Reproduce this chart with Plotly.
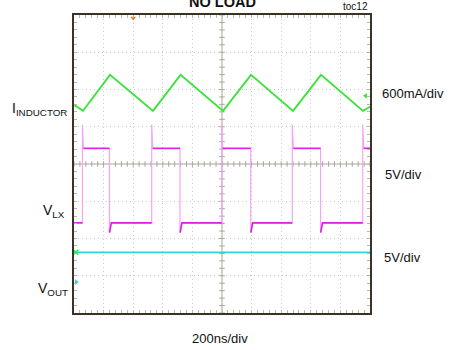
import plotly.graph_objects as go

# ---- time base: 200 ns/div over 10 divisions; 8 vertical divisions ----
T_SPAN_NS = 2000
DIV_NS = 200
V_HALF_DIVS = 4

# ---- inductor current, 600 mA/div ----
IL_T_NS = [0, 61, 243, 534, 720, 1007, 1196, 1480, 1669, 1953, 2000]
IL_MA = [-145, -242, 338, -242, 338, -242, 338, -242, 338, -242, -177]
IL_SCALE_MA = 600.0
IL_GROUND_DIV = 1.83

# ---- switching node LX, 5 V/div ----
LX_RISE_NS = [57, 525, 998, 1475, 1951]
LX_FALL_NS = [239, 716, 1194, 1666]
LX_LOW_V = 0.0
LX_HIGH_V = 10.0
LX_RING_UP_V = 13.2
LX_RING_DN_V = -1.3
LX_RISE_SETTLE_NS = 7
LX_FALL_SETTLE_NS = 13
LX_SCALE_V = 5.0
LX_GROUND_DIV = -1.58

# ---- output voltage, 5 V/div ----
VOUT_T_NS = [0, 2000]
VOUT_V = [4.0, 4.0]
VOUT_SCALE_V = 5.0
VOUT_GROUND_DIV = -3.17

TRIGGER_NS = 400

FONT = "Liberation Sans, Arial, sans-serif"
GREEN = "#3ae23a"
MAGENTA = "#e020e0"
PINK = "#f3a6f3"
CYAN = "#2fd4e2"
FRAME = "#3a3326"
CROSS = "#aca698"
TICK = "#bdb7a9"


def to_div(values, scale, ground):
    return [None if v is None else ground + v / scale for v in values]


# build the LX trace from its edge times and levels
events = sorted([(t, "rise") for t in LX_RISE_NS] + [(t, "fall") for t in LX_FALL_NS])
full_t, full_v = [0], [LX_LOW_V]
flat_t, flat_v = [0], [LX_LOW_V]
level = LX_LOW_V
for t, kind in events:
    if kind == "rise":
        full_t += [t, t, t + LX_RISE_SETTLE_NS]
        full_v += [LX_LOW_V, LX_RING_UP_V, LX_HIGH_V]
        flat_t += [t, None, t + LX_RISE_SETTLE_NS]
        flat_v += [LX_LOW_V, None, LX_HIGH_V]
        level = LX_HIGH_V
    else:
        full_t += [t, t, t + LX_FALL_SETTLE_NS]
        full_v += [LX_HIGH_V, LX_RING_DN_V, LX_LOW_V]
        flat_t += [t, None, t + 1, t + LX_FALL_SETTLE_NS]
        flat_v += [LX_HIGH_V, None, LX_RING_DN_V, LX_LOW_V]
        level = LX_LOW_V
full_t.append(T_SPAN_NS)
full_v.append(level)
flat_t.append(T_SPAN_NS)
flat_v.append(level)

fig = go.Figure()

# centre graticule tick marks (5 per division)
minor_ns = DIV_NS / 5
n_hminor = int(T_SPAN_NS / minor_ns)
fig.add_trace(go.Scatter(
    x=[k * minor_ns for k in range(n_hminor + 1)],
    y=[0] * (n_hminor + 1),
    mode="markers", hoverinfo="skip",
    marker=dict(symbol="line-ns-open", size=4, color=CROSS, line=dict(width=1)),
))
n_vminor = V_HALF_DIVS * 2 * 5
fig.add_trace(go.Scatter(
    x=[T_SPAN_NS / 2] * (n_vminor + 1),
    y=[-V_HALF_DIVS + k * 0.2 for k in range(n_vminor + 1)],
    mode="markers", hoverinfo="skip",
    marker=dict(symbol="line-ew-open", size=4, color=CROSS, line=dict(width=1)),
))

# output voltage
fig.add_trace(go.Scatter(
    x=VOUT_T_NS, y=to_div(VOUT_V, VOUT_SCALE_V, VOUT_GROUND_DIV),
    mode="lines", line=dict(color=CYAN, width=1.8), hoverinfo="skip",
))

# LX: fast edges faint, settled levels solid
fig.add_trace(go.Scatter(
    x=full_t, y=to_div(full_v, LX_SCALE_V, LX_GROUND_DIV),
    mode="lines", line=dict(color=PINK, width=1.2), hoverinfo="skip",
))
fig.add_trace(go.Scatter(
    x=flat_t, y=to_div(flat_v, LX_SCALE_V, LX_GROUND_DIV),
    mode="lines", line=dict(color=MAGENTA, width=1.6), hoverinfo="skip",
    connectgaps=False,
))

# inductor current
fig.add_trace(go.Scatter(
    x=IL_T_NS, y=to_div(IL_MA, IL_SCALE_MA, IL_GROUND_DIV),
    mode="lines", line=dict(color=GREEN, width=1.8), hoverinfo="skip",
))

# channel reference markers
fig.add_trace(go.Scatter(
    x=[T_SPAN_NS - 30], y=[IL_GROUND_DIV], mode="markers", hoverinfo="skip",
    marker=dict(symbol="triangle-left", size=5, color=GREEN), cliponaxis=False,
))
fig.add_trace(go.Scatter(
    x=[15], y=[VOUT_GROUND_DIV], mode="markers", hoverinfo="skip",
    marker=dict(symbol="triangle-right", size=5, color=CYAN), cliponaxis=False,
))
fig.add_trace(go.Scatter(
    x=[12], y=to_div([VOUT_V[0]], VOUT_SCALE_V, VOUT_GROUND_DIV), mode="markers",
    hoverinfo="skip", marker=dict(symbol="x-thin-open", size=5, color=GREEN,
                                  line=dict(width=1.5)), cliponaxis=False,
))
fig.add_trace(go.Scatter(
    x=[TRIGGER_NS], y=[V_HALF_DIVS - 0.08], mode="markers", hoverinfo="skip",
    marker=dict(symbol="triangle-down", size=5, color="#f07818"), cliponaxis=False,
))

# centre cross lines
fig.add_shape(type="line", xref="x", yref="y", x0=T_SPAN_NS / 2, x1=T_SPAN_NS / 2,
              y0=-V_HALF_DIVS, y1=V_HALF_DIVS, line=dict(color=CROSS, width=1), layer="below")
fig.add_shape(type="line", xref="x", yref="y", x0=0, x1=T_SPAN_NS, y0=0, y1=0,
              line=dict(color=CROSS, width=1), layer="below")

axis_common = dict(
    showticklabels=False, showgrid=True, gridcolor="#cacaca", griddash="1px,3px",
    gridwidth=1, zeroline=False, ticks="inside", ticklen=3, tickcolor=TICK,
    showline=True, linecolor=FRAME, linewidth=2, mirror="allticks", fixedrange=True,
)
fig.update_xaxes(range=[0, T_SPAN_NS], dtick=DIV_NS, tick0=0,
                 minor=dict(dtick=DIV_NS / 5, ticks="inside", ticklen=3,
                            tickcolor=TICK, showgrid=False),
                 **axis_common)
fig.update_yaxes(range=[-V_HALF_DIVS, V_HALF_DIVS], dtick=1, tick0=0,
                 minor=dict(dtick=0.2, ticks="inside", ticklen=3,
                            tickcolor=TICK, showgrid=False),
                 **axis_common)

txt = dict(family=FONT, size=13, color="#111111")
lab = dict(family=FONT, size=14, color="#111111")
ann = [
    dict(text="<b>NO LOAD</b>", x=0.503, y=1.043, xanchor="center", yanchor="middle",
         font=dict(family=FONT, size=14.5, color="#111111")),
    dict(text="toc12", x=1.0, y=1.027, xanchor="right", yanchor="middle",
         font=dict(family=FONT, size=10, color="#111111")),
    dict(text="600mA/div", x=1.034, y=0.738, xanchor="left", yanchor="middle", font=txt),
    dict(text="5V/div", x=1.044, y=0.466, xanchor="left", yanchor="middle", font=txt),
    dict(text="5V/div", x=1.041, y=0.185, xanchor="left", yanchor="middle", font=txt),
    dict(text="200ns/div", x=0.493, y=-0.087, xanchor="center", yanchor="middle", font=txt),
    dict(text="I<sub>INDUCTOR</sub>", x=-0.016, y=0.685, xanchor="right",
         yanchor="middle", font=lab),
    dict(text="V<sub>LX</sub>", x=-0.022, y=0.342, xanchor="right", yanchor="middle", font=lab),
    dict(text="V<sub>OUT</sub>", x=-0.012, y=0.081, xanchor="right", yanchor="middle", font=lab),
]
for a in ann:
    a.update(xref="paper", yref="paper", showarrow=False)

fig.update_layout(
    width=453, height=350,
    margin=dict(l=74, r=83, t=15, b=37, pad=0),
    paper_bgcolor="white", plot_bgcolor="white",
    showlegend=False, annotations=ann,
)

fig.write_html("out.html")
